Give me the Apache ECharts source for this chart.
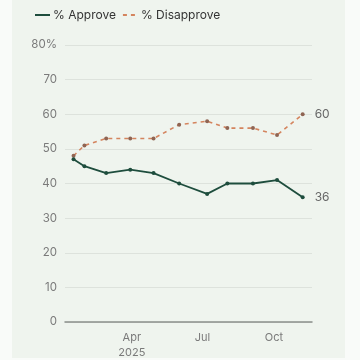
<!DOCTYPE html>
<html><head><meta charset="utf-8">
<script src="https://cdn.jsdelivr.net/npm/echarts@6/dist/echarts.min.js"></script>
<style>html,body{margin:0;padding:0;background:#f9fbf9;}#c{width:360px;height:360px;}</style>
</head><body><div id="c"></div>
<script>
const dates = ['2025-01-16','2025-01-30','2025-02-27','2025-03-30','2025-04-29','2025-06-01','2025-07-07','2025-08-02','2025-09-04','2025-10-05','2025-11-07'];
const approve = [47,45,43,44,43,40,37,40,40,41,36];
const disapprove = [48,51,53,53,53,57,58,56,56,54,60];
const tickDates = ['2025-04-01','2025-07-01','2025-10-01'];
const tickLabels = ['Apr\n2025','Jul','Oct'];
const axisRange = ['2025-01-05','2025-11-19'];

const DAY = 86400000;
const base = Date.UTC(2025, 0, 1);
const toDay = s => Math.round((Date.parse(s + 'T00:00:00Z') - base) / DAY);
const tickDays = tickDates.map(toDay);

const chart = echarts.init(document.getElementById('c'), null, {renderer:'canvas'});
const font = 'Inter, "Noto Sans", sans-serif';
chart.setOption({
  backgroundColor: 'transparent',
  textStyle: {fontFamily: font},
  graphic: [{type:'rect', z:-10, shape:{x:12, y:0, width:333, height:358}, style:{fill:'#eff4ee'}, silent:true}],
  legend: {
    left: 29, top: 4, itemWidth: 15, itemHeight: 10, itemGap: 6,
    textStyle: {fontSize: 12, color: '#333', fontFamily: font, padding: [0, 0, 0, -2]},
    itemStyle: {opacity: 0},
    data: ['% Approve', '% Disapprove']
  },
  grid: {left: 65, right: 48, top: 45, bottom: 38, containLabel: false},
  xAxis: {
    type: 'value',
    min: toDay(axisRange[0]),
    max: toDay(axisRange[1]),
    axisLine: {show: true, lineStyle: {color: '#8a8f8a', width: 1.5}},
    axisTick: {show: false},
    splitLine: {show: false},
    axisLabel: {
      customValues: tickDays,
      color: '#7a7a7a', fontSize: 11, lineHeight: 15, margin: 8,
      formatter: function (v) {
        const i = tickDays.indexOf(v);
        return i >= 0 ? tickLabels[i] : '';
      }
    }
  },
  yAxis: {
    type: 'value', min: 0, max: 80, interval: 10,
    axisLine: {show: false}, axisTick: {show: false},
    splitLine: {lineStyle: {color: '#dde2dc', width: 1}},
    axisLabel: {color: '#7a7a7a', fontSize: 11.5, margin: 8,
      formatter: v => v === 80 ? '80%' : String(v)}
  },
  series: [
    {
      name: '% Approve', type: 'line',
      data: dates.map((d, i) => [toDay(d), approve[i]]),
      symbol: 'circle', symbolSize: 4, showSymbol: true,
      lineStyle: {color: '#1e4d3d', width: 1.8},
      itemStyle: {color: '#1e4d3d'},
      endLabel: {show: true, formatter: p => String(p.value[1]), color: '#666', fontSize: 12, distance: 12},
      z: 3
    },
    {
      name: '% Disapprove', type: 'line',
      data: dates.map((d, i) => [toDay(d), disapprove[i]]),
      symbol: 'circle', symbolSize: 4, showSymbol: true,
      lineStyle: {color: '#d4845e', width: 1.6, type: [4, 4]},
      itemStyle: {color: '#8f6452'},
      endLabel: {show: true, formatter: p => String(p.value[1]), color: '#666', fontSize: 12, distance: 12},
      z: 2
    }
  ]
});
</script></body></html>
